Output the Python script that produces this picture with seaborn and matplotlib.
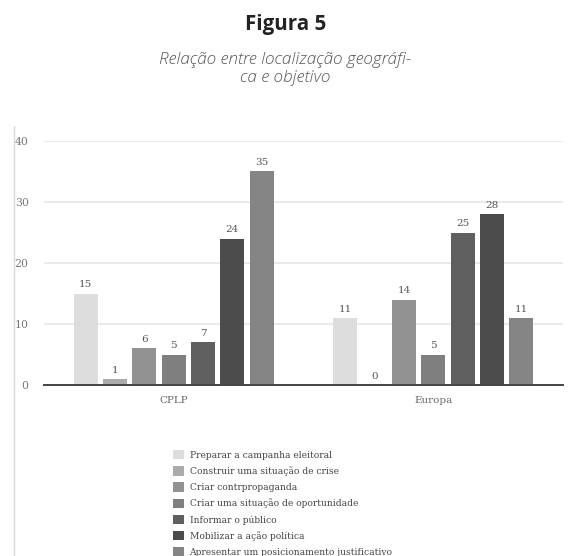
import matplotlib
matplotlib.use("Agg")
import matplotlib.pyplot as plt
from matplotlib.lines import Line2D
from matplotlib.patches import Patch
import pandas as pd
import seaborn as sns

# Regions, objectives and counts
regioes = ["CPLP", "Europa"]
objetivos = [
    "Preparar a campanha eleitoral",
    "Construir uma situação de crise",
    "Criar contrpropaganda",
    "Criar uma situação de oportunidade",
    "Informar o público",
    "Mobilizar a ação política",
    "Apresentar um posicionamento justificativo",
]
valores_cplp = [15, 1, 6, 5, 7, 24, 35]
valores_europa = [11, 0, 14, 5, 25, 28, 11]
cores = ["#dddddd", "#ababab", "#929292", "#7f7f7f", "#5f5f5f", "#4b4b4b", "#858585"]
y_ticks = [0, 10, 20, 30, 40]

df = pd.DataFrame({
    "regiao": [regioes[0]] * len(objetivos) + [regioes[1]] * len(objetivos),
    "objetivo": objetivos * 2,
    "valor": valores_cplp + valores_europa,
})

sns.set_theme(style="white")
plt.rcParams["font.family"] = ["DejaVu Serif"]

W, H = 571, 556
fig = plt.figure(figsize=(W / 100, H / 100), dpi=100)
ax = fig.add_axes([44 / W, 1 - 385 / H, 519 / W, 244 / H])

sns.barplot(data=df, x="regiao", y="valor", hue="objetivo", hue_order=objetivos,
            palette=cores, width=0.79, gap=0.18, saturation=1, legend=False,
            ax=ax, zorder=3, linewidth=0)

ax.set_ylim(0, 40)
ax.set_yticks(y_ticks)
ax.yaxis.grid(True, color="#e4e4e4", linewidth=1.1, zorder=0)
ax.xaxis.grid(False)
for s in ["top", "right", "left"]:
    ax.spines[s].set_visible(False)
ax.spines["bottom"].set_color("#444444")
ax.spines["bottom"].set_linewidth(1.4)
ax.spines["bottom"].set_zorder(4)
ax.set_xlabel("")
ax.set_ylabel("")
ax.tick_params(axis="y", length=0, pad=11, labelsize=7.8, labelcolor="#777777")
ax.tick_params(axis="x", length=0, pad=8, labelsize=7.5, labelcolor="#666666")

for cont in ax.containers:
    ax.bar_label(cont, fmt="%d", padding=3, fontsize=7.5, color="#555555")

# Legend below the plot
handles = [Patch(facecolor=c, edgecolor="none") for c in cores]
fig.legend(handles, objetivos, loc="upper left",
           bbox_to_anchor=(173 / W, 1 - 450 / H), frameon=False,
           fontsize=6.6, labelcolor="#444444", handlelength=1.2,
           handleheight=1.2, handletextpad=0.6, labelspacing=0.7,
           borderaxespad=0, borderpad=0)

# Frame line on the left
fig.add_artist(Line2D([13.5 / W, 13.5 / W], [0, 1 - 126 / H],
                      transform=fig.transFigure, color="#d9d9d9", linewidth=1))

fig.text(0.5, 1 - 30 / H, "Figura 5", ha="center", va="baseline",
         fontsize=14.8, fontweight="bold", color="#222222", family="Open Sans")
fig.text(0.5, 1 - 64 / H, "Relação entre localização geográfi-",
         ha="center", va="baseline", fontsize=12.3, style="italic",
         fontweight="light", color="#555555", family="Open Sans")
fig.text(0.5, 1 - 82 / H, "ca e objetivo",
         ha="center", va="baseline", fontsize=12.3, style="italic",
         fontweight="light", color="#555555", family="Open Sans")

fig.savefig("out.png", dpi=100)
